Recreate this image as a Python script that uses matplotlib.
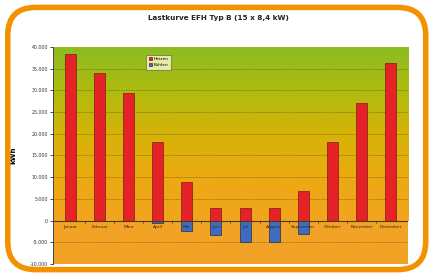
import matplotlib
matplotlib.use("Agg")

import matplotlib.pyplot as plt
import numpy as np
from matplotlib.colors import LinearSegmentedColormap
from matplotlib.patches import FancyBboxPatch

# Monthly load, kWh
months = ["Januar", "Februar", "März", "April", "Mai", "Juni", "Juli",
          "August", "September", "Oktober", "November", "Dezember"]
heizen = [38500, 34000, 29400, 18200, 9000, 3000, 3000, 3000, 6900, 18200, 27100, 36300]
kuehlen = [0, 0, 0, -500, -2400, -3400, -4900, -4900, -3200, 0, 0, 0]
yticks = [-10000, -5000, 0, 5000, 10000, 15000, 20000, 25000, 30000, 35000, 40000]

ORANGE = "#f39200"
RED = "#e62229"
BLUE = "#3d6cc0"

fig = plt.figure(figsize=(4.3, 2.74), dpi=100)
fig.patch.set_facecolor("white")

# rounded orange frame
frame = FancyBboxPatch((0.018, 0.016), 0.972, 0.957,
                       boxstyle="round,pad=0,rounding_size=0.065",
                       transform=fig.transFigure, facecolor="none",
                       edgecolor=ORANGE, linewidth=4, mutation_aspect=430 / 274)
fig.patches.append(frame)

ax = fig.add_axes([0.123, 0.0365, 0.826, 0.792])
ax.set_facecolor("#f2a224")
x = np.arange(len(months))

# background gradient: green at top -> yellow -> orange at zero
cmap = LinearSegmentedColormap.from_list(
    "bg", [(0.0, "#f2a41e"), (0.25, "#ecaa12"), (0.5, "#d6b306"),
           (0.75, "#afbb10"), (1.0, "#8cbd22")])
grad = np.linspace(0, 1, 256).reshape(-1, 1)
ax.imshow(grad, aspect="auto", cmap=cmap, origin="lower",
          extent=[-0.6, 11.6, 0, 40000], zorder=0)

for yv in yticks[1:-1]:
    if yv != 0:
        ax.axhline(yv, color="#6a5a20", linestyle=(0, (2, 1)), linewidth=0.6,
                   alpha=0.6, zorder=1)

ax.bar(x, heizen, width=0.38, color=RED, edgecolor="#7a1a10", linewidth=0.5,
       label="Heizen", zorder=3)
ax.bar(x, kuehlen, width=0.38, color=BLUE, edgecolor="#2a2a40", linewidth=0.5,
       label="Kühlen", zorder=3)

ax.axhline(0, color="#4a3a10", linewidth=0.8, zorder=4)
ax.vlines(x[:-1] + 0.5, -500, 0, color="#4a3a10", linewidth=0.6, zorder=4)

for xi, m in zip(x, months):
    ax.text(xi, -900, m, ha="center", va="top", fontsize=3.2, color="#3a2a10",
            zorder=5)

ax.set_xlim(-0.6, 11.6)
ax.set_ylim(-10000, 40000)
ax.set_yticks(yticks)
ax.set_yticklabels([f"{v:,}".replace(",", ".") for v in yticks], fontsize=3.4,
                   color="#333333")
ax.set_xticks([])
ax.tick_params(axis="y", length=2, width=0.5, pad=1.5)
for side in ["top", "right", "bottom"]:
    ax.spines[side].set_visible(False)
ax.spines["left"].set_color("#444444")
ax.spines["left"].set_linewidth(0.7)

ax.set_ylabel("kWh", fontsize=5, fontweight="bold", labelpad=10)

leg = ax.legend(loc="upper left", bbox_to_anchor=(0.257, 0.975), fontsize=3.2,
                frameon=True, handlelength=0.7, handleheight=0.7,
                borderpad=0.5, labelspacing=0.5, handletextpad=0.4,
                fancybox=False)
leg.get_frame().set_facecolor("#fcf8c8")
leg.get_frame().set_edgecolor("#555533")
leg.get_frame().set_linewidth(0.5)
leg.set_zorder(6)

fig.text(0.508, 0.934, "Lastkurve EFH Typ B (15 x 8,4 kW)", ha="center",
         va="center", fontsize=5.2, fontweight="bold", color="#222222")

fig.savefig("out.png", dpi=100)
